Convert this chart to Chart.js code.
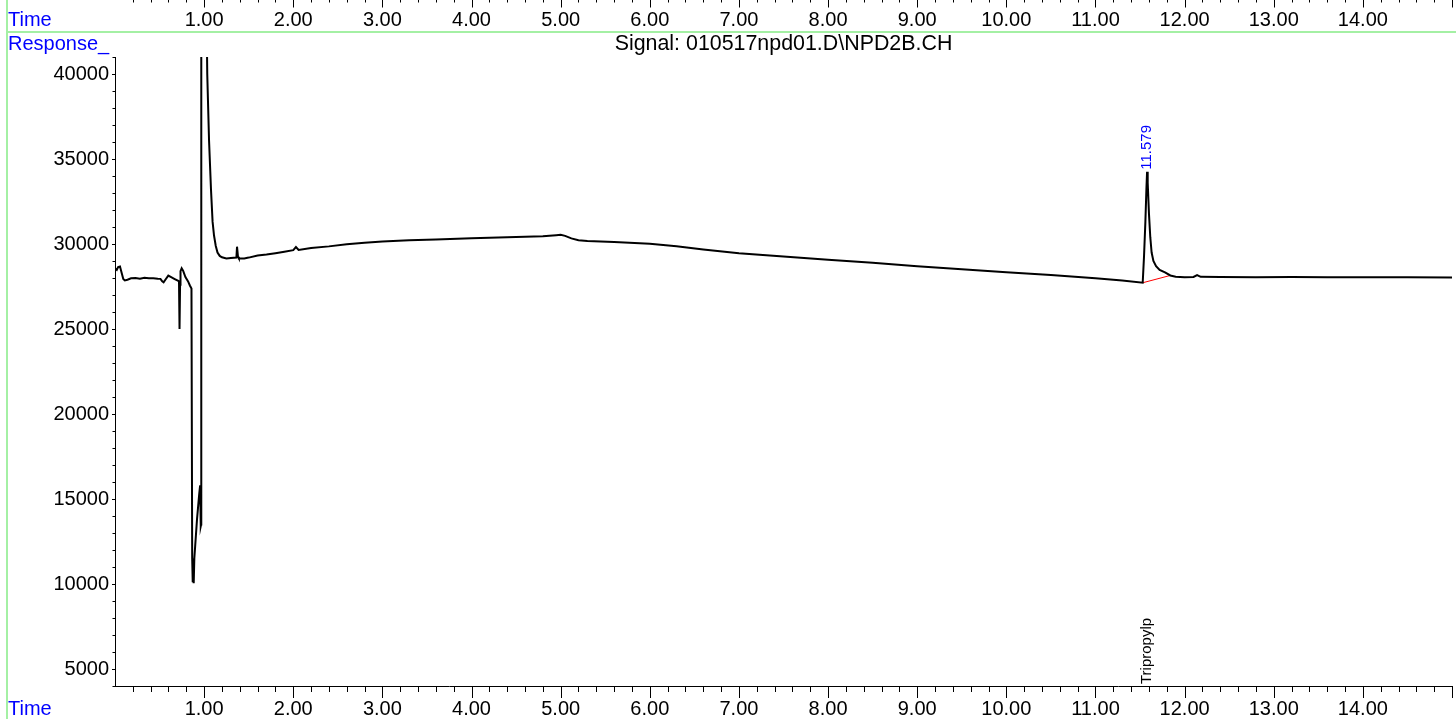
<!DOCTYPE html>
<html>
<head>
<meta charset="utf-8">
<title>NPD2B signal</title>
<script src="https://cdn.jsdelivr.net/npm/chart.js@4/dist/chart.umd.min.js"></script>
<style>
  html, body { margin: 0; padding: 0; background: #ffffff; }
  canvas { display: block; }
</style>
</head>
<body>
<canvas id="chrom" width="1456" height="719"></canvas>
<script>
// Detector trace: retention time (min) and response
const retentionTimes = [
  0.000, 0.020, 0.035, 0.056, 0.075, 0.093, 0.110, 0.140, 0.180, 0.230,
  0.280, 0.330, 0.380, 0.430, 0.480, 0.510, 0.530, 0.545, 0.565, 0.598,
  0.630, 0.670, 0.705, 0.718, 0.724, 0.730, 0.735, 0.748, 0.765, 0.790,
  0.820, 0.840, 0.858, 0.866, 0.872, 0.878, 0.883, 0.890, 0.920, 0.945,
  0.955, 0.962, 0.966, 0.968, 0.990, 1.020, 1.035, 1.055, 1.077, 1.095,
  1.111, 1.130, 1.150, 1.175, 1.200, 1.250, 1.300, 1.362, 1.369, 1.380,
  1.390, 1.450, 1.500, 1.600, 1.700, 1.800, 1.900, 2.000, 2.030, 2.060,
  2.200, 2.400, 2.600, 2.800, 3.000, 3.300, 3.600, 4.000, 4.300, 4.600,
  4.800, 4.950, 5.000, 5.050, 5.120, 5.200, 5.300, 5.600, 6.000, 6.300,
  6.600, 7.000, 7.500, 8.000, 8.500, 9.000, 9.500, 10.000, 10.500, 11.000,
  11.300, 11.530, 11.545, 11.560, 11.572, 11.579, 11.586, 11.600, 11.615, 11.630,
  11.650, 11.680, 11.720, 11.780, 11.840, 11.900, 12.000, 12.100, 12.140, 12.180,
  12.400, 12.800, 13.200, 13.600, 14.000, 14.500, 15.000
];
const responses = [
  28570, 28480, 28640, 28680, 28300, 27940, 27860, 27900, 27980, 28000,
  27960, 28010, 27980, 27990, 27960, 27950, 27800, 27740, 27900, 28140,
  28050, 27940, 27840, 27800, 25000, 27600, 28400, 28570, 28420, 28050,
  27800, 27560, 27380, 11500, 10100, 10300, 10050, 11500, 13800, 15300,
  15800, 13400, 13500, 45000, 90000, 47000, 40000, 36100, 33200, 31300,
  30500, 29900, 29500, 29300, 29220, 29150, 29180, 29200, 29840, 29250,
  29150, 29150, 29200, 29320, 29380, 29460, 29550, 29640, 29820, 29650,
  29760, 29860, 29990, 30080, 30150, 30220, 30270, 30340, 30380, 30420,
  30450, 30520, 30540, 30480, 30330, 30220, 30180, 30120, 30020, 29870,
  29680, 29460, 29270, 29080, 28890, 28690, 28520, 28340, 28170, 27990,
  27850, 27720, 29300, 31300, 33300, 34250, 33600, 31800, 30400, 29500,
  29000, 28700, 28480, 28330, 28150, 28080, 28050, 28060, 28170, 28070,
  28060, 28050, 28060, 28040, 28050, 28040, 28030
];

// Integration baseline under the peak
const baselineTimes = [11.530, 11.840];
const baselineResponses = [27720, 28150];

// Peak annotation
const peakTimes = [11.579];
const peakResponses = [34250];
const peakNames = ['Tripropylp'];

// Axis ranges and labelled ticks
const timeRange = [0, 15];
const timeStep = 0.2;
const responseRange = [4000, 41000];
const responseStep = 1000;
const responseLabelEvery = 5000;

const signalTitle = 'Signal: 010517npd01.D\\NPD2B.CH';
const timeAxisName = 'Time';
const responseAxisName = 'Response_';

const FONT = '"Liberation Sans", Arial, sans-serif';
const BLUE = '#0000ff';
const GREEN = '#a4f0a4';

function isWhole(v) { return Math.abs(v - Math.round(v)) < 1e-6; }
function timeLabel(v) {
  const r = Math.round(v);
  return (isWhole(v) && r > timeRange[0] && r < timeRange[1]) ? r.toFixed(2) : '';
}

const tracePoints = retentionTimes.map((t, i) => ({ x: t, y: responses[i] }));
const baselinePoints = baselineTimes.map((t, i) => ({ x: t, y: baselineResponses[i] }));

function seg(ctx, x1, y1, x2, y2) {
  ctx.beginPath(); ctx.moveTo(x1, y1); ctx.lineTo(x2, y2); ctx.stroke();
}

const framePlugin = {
  id: 'chromFrame',
  beforeDraw(chart) {
    const ctx = chart.ctx;
    ctx.save();
    ctx.fillStyle = '#ffffff';
    ctx.fillRect(0, 0, chart.width, chart.height);
    ctx.strokeStyle = GREEN;
    ctx.lineWidth = 2;
    seg(ctx, 7, 0, 7, chart.height);
    seg(ctx, 6, 32, chart.width, 32);
    ctx.restore();
  },
  afterDraw(chart) {
    const ctx = chart.ctx;
    const xs = chart.scales.x, ys = chart.scales.y;
    const area = chart.chartArea;
    ctx.save();
    ctx.strokeStyle = '#000000';
    ctx.lineWidth = 1;

    // time ticks: along the bottom axis and along the top edge
    xs.ticks.forEach(tk => {
      if (tk.value <= timeRange[0] + 1e-6) return;
      const px = Math.round(xs.getPixelForValue(tk.value)) + 0.5;
      const major = isWhole(tk.value);
      seg(ctx, px, area.bottom, px, area.bottom + (major ? 12 : 6));
      seg(ctx, px, 0, px, major ? 7.5 : 2.5);
    });

    // response ticks
    ys.ticks.forEach(tk => {
      const py = Math.round(ys.getPixelForValue(tk.value)) + 0.5;
      const major = tk.value % responseLabelEvery === 0;
      seg(ctx, area.left - (major ? 3 : 2.5), py, area.left, py);
    });

    // top time labels
    ctx.fillStyle = '#000000';
    ctx.font = '20px ' + FONT;
    ctx.textAlign = 'center';
    ctx.textBaseline = 'middle';
    xs.ticks.forEach(tk => {
      const lbl = timeLabel(tk.value);
      if (lbl) ctx.fillText(lbl, xs.getPixelForValue(tk.value), 20);
    });

    // axis names
    ctx.fillStyle = BLUE;
    ctx.textAlign = 'left';
    ctx.fillText(timeAxisName, 8, 20);
    ctx.fillText(timeAxisName, 8, 709);
    ctx.fillText(responseAxisName, 8, 44);

    // signal title
    ctx.fillStyle = '#000000';
    ctx.font = '21.4px ' + FONT;
    ctx.textAlign = 'center';
    ctx.fillText(signalTitle, (area.left + area.right) / 2, 44);

    // peak annotations
    ctx.font = '15px ' + FONT;
    ctx.textAlign = 'left';
    ctx.textBaseline = 'middle';
    peakTimes.forEach((t, i) => {
      const px = xs.getPixelForValue(t);
      const py = ys.getPixelForValue(peakResponses[i]);
      ctx.save();
      ctx.fillStyle = BLUE;
      ctx.translate(px, py - 2);
      ctx.rotate(-Math.PI / 2);
      ctx.fillText(t.toFixed(3), 0, 0);
      ctx.restore();

      ctx.save();
      ctx.fillStyle = '#000000';
      ctx.translate(px, area.bottom - 2);
      ctx.rotate(-Math.PI / 2);
      ctx.fillText(peakNames[i], 0, 0);
      ctx.restore();
    });
    ctx.restore();
  }
};

Chart.defaults.font.family = FONT;
Chart.defaults.font.size = 20;
Chart.defaults.color = '#000000';

new Chart(document.getElementById('chrom'), {
  type: 'line',
  data: {
    datasets: [
      {
        label: 'NPD2B',
        data: tracePoints,
        borderColor: '#000000',
        borderWidth: 2,
        pointRadius: 0,
        tension: 0,
        fill: false
      },
      {
        label: 'baseline',
        data: baselinePoints,
        borderColor: '#ff0000',
        borderWidth: 1,
        pointRadius: 0,
        tension: 0,
        fill: false
      }
    ]
  },
  options: {
    responsive: false,
    animation: false,
    devicePixelRatio: 1,
    layout: { padding: { left: 0, top: 57, right: 4, bottom: 0 } },
    plugins: {
      legend: { display: false },
      title: { display: false },
      tooltip: { enabled: false }
    },
    scales: {
      x: {
        type: 'linear',
        position: 'bottom',
        min: timeRange[0],
        max: timeRange[1],
        grid: { display: true, drawOnChartArea: false, drawTicks: false },
        border: { display: true, color: '#000000', width: 1 },
        ticks: {
          stepSize: timeStep,
          autoSkip: false,
          maxRotation: 0,
          minRotation: 0,
          padding: 11,
          callback: (v) => timeLabel(v)
        },
        afterFit: (s) => {
          s.height = 33;
          s.paddingLeft = 0;
          s.paddingRight = 0;
        }
      },
      y: {
        type: 'linear',
        position: 'left',
        min: responseRange[0],
        max: responseRange[1],
        grid: { display: true, drawOnChartArea: false, drawTicks: false },
        border: { display: true, color: '#000000', width: 1 },
        ticks: {
          stepSize: responseStep,
          autoSkip: false,
          padding: 6,
          callback: (v) => (v % responseLabelEvery === 0 ? String(v) : '')
        },
        afterFit: (s) => {
          s.width = 115;
          s.paddingTop = 0;
          s.paddingBottom = 0;
        }
      }
    }
  },
  plugins: [framePlugin]
});
</script>
</body>
</html>
